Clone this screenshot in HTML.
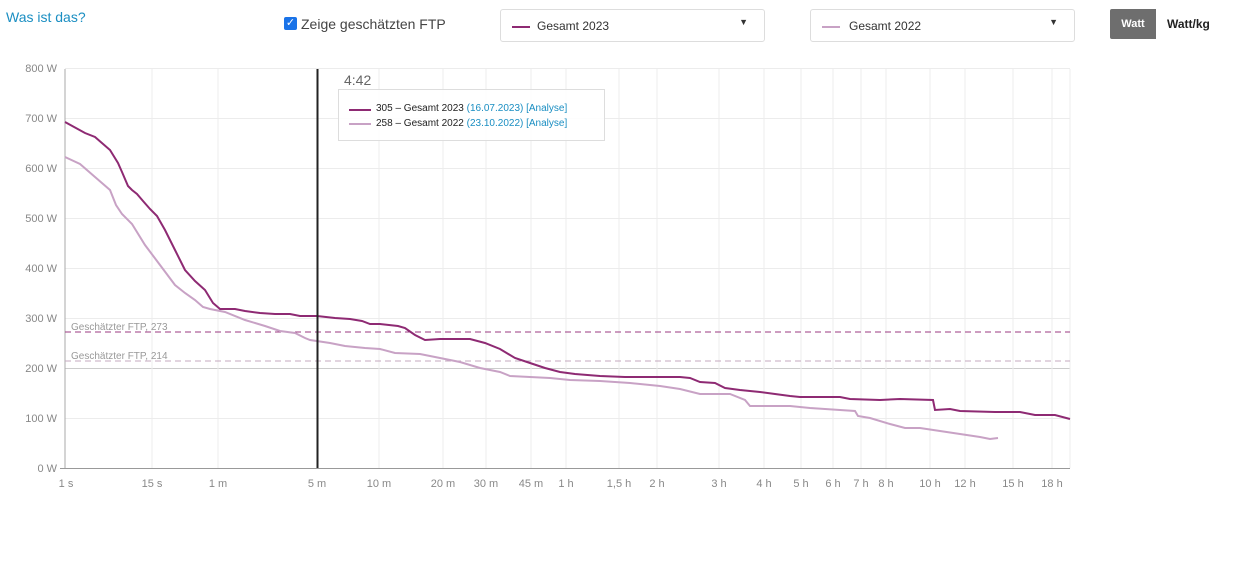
<!DOCTYPE html>
<html><head><meta charset="utf-8"><style>
body{margin:0;width:1257px;height:578px;background:#fff;font-family:"Liberation Sans",sans-serif;position:relative;overflow:hidden}
.a{position:absolute}
.sel{position:absolute;top:9px;height:33px;border:1px solid #ddd;border-radius:3px;font-size:12px;color:#333;box-sizing:border-box}
</style></head><body>
<div class="a" style="left:6px;top:9px;font-size:14px;color:#1a8ec2">Was ist das?</div>
<div class="a" style="left:284px;top:17px;width:13px;height:13px;background:#1a73e8;border-radius:2px;color:#fff;font-size:11px;line-height:13px;text-align:center">✓</div>
<div class="a" style="left:301px;top:16px;font-size:14px;color:#444">Zeige geschätzten FTP</div>
<div class="sel" style="left:500px;width:265px"><span class="a" style="left:11px;top:16px;width:18px;height:2px;background:#8e2a73"></span><span class="a" style="left:36px;top:9px">Gesamt 2023</span><span class="a" style="right:16px;top:7px;font-size:9px">▼</span></div>
<div class="sel" style="left:810px;width:265px"><span class="a" style="left:11px;top:16px;width:18px;height:2px;background:#c8a2c5"></span><span class="a" style="left:38px;top:9px">Gesamt 2022</span><span class="a" style="right:16px;top:7px;font-size:9px">▼</span></div>
<div class="a" style="left:1110px;top:9px;width:46px;height:30px;background:#6e6e6e;border-radius:2px 0 0 2px;color:#fff;font-size:11px;font-weight:bold;line-height:30px;text-align:center">Watt</div>
<div class="a" style="left:1167px;top:17px;font-size:12px;font-weight:bold;color:#222">Watt/kg</div>
<svg class="a" style="left:0;top:0" width="1257" height="578" font-family="Liberation Sans, sans-serif">
<g stroke="#ececec" stroke-width="1">
<line x1="65" y1="118.5" x2="1070" y2="118.5"/><line x1="65" y1="168.5" x2="1070" y2="168.5"/><line x1="65" y1="218.5" x2="1070" y2="218.5"/><line x1="65" y1="268.5" x2="1070" y2="268.5"/><line x1="65" y1="318.5" x2="1070" y2="318.5"/><line x1="65" y1="368.5" x2="1070" y2="368.5" stroke="#ccc"/><line x1="65" y1="418.5" x2="1070" y2="418.5"/><line x1="65" y1="68.5" x2="1070" y2="68.5"/>
<path d="M152 69V468M218 69V468M317 69V468M379 69V468M443 69V468M486 69V468M531 69V468M566 69V468M619 69V468M657 69V468M719 69V468M764 69V468M801 69V468M833 69V468M861 69V468M886 69V468M930 69V468M965 69V468M1013 69V468M1052 69V468M1070 69V468"/>
</g>
<line x1="65" y1="69" x2="65" y2="468" stroke="#aaa"/>
<line x1="60" y1="468.5" x2="1070" y2="468.5" stroke="#999"/>
<g font-size="11" fill="#888" text-anchor="end">
<text x="57" y="72">800 W</text><text x="57" y="122">700 W</text><text x="57" y="172">600 W</text><text x="57" y="222">500 W</text><text x="57" y="272">400 W</text><text x="57" y="322">300 W</text><text x="57" y="372">200 W</text><text x="57" y="422">100 W</text><text x="57" y="472">0 W</text>
</g>
<g font-size="11" fill="#888" text-anchor="middle">
<text x="66" y="487">1 s</text><text x="152" y="487">15 s</text><text x="218" y="487">1 m</text><text x="317" y="487">5 m</text><text x="379" y="487">10 m</text><text x="443" y="487">20 m</text><text x="486" y="487">30 m</text><text x="531" y="487">45 m</text><text x="566" y="487">1 h</text><text x="619" y="487">1,5 h</text><text x="657" y="487">2 h</text><text x="719" y="487">3 h</text><text x="764" y="487">4 h</text><text x="801" y="487">5 h</text><text x="833" y="487">6 h</text><text x="861" y="487">7 h</text><text x="886" y="487">8 h</text><text x="930" y="487">10 h</text><text x="965" y="487">12 h</text><text x="1013" y="487">15 h</text><text x="1052" y="487">18 h</text>
</g>
<line x1="65" y1="332" x2="1070" y2="332" stroke="#9b3a82" stroke-dasharray="6,4"/>
<line x1="65" y1="361" x2="1070" y2="361" stroke="#c4a8bf" stroke-dasharray="6,4"/>
<text x="71" y="330" font-size="10" fill="#999">Geschätzter FTP, 273</text>
<text x="71" y="359" font-size="10" fill="#999">Geschätzter FTP, 214</text>
<polyline fill="none" stroke="#c8a2c5" stroke-width="2" points="65,157 80,164 95,177 110,190 116,205 122,214 132,224 145,245 160,265 175,285 185,293 195,300 203,307 210,309 225,312 245,320 265,326 280,331 295,333 305,338 310,340 330,343 345,346 365,348 380,349 395,353 420,354 440,358 460,362 480,368 500,372 510,376 530,377 550,378 570,380 600,381 630,383 660,386 680,389 700,394 730,394 745,400 750,406 790,406 810,408 840,410 855,411 858,416 870,418 890,424 905,428 920,428 940,431 960,434 980,437 990,439 998,438"/>
<polyline fill="none" stroke="#8e2a73" stroke-width="2" points="65,122 85,133 95,137 110,150 118,163 122,172 128,186 132,190 137,194 143,201 150,209 157,216 165,230 175,250 185,270 195,281 205,290 213,303 220,309 235,309 245,311 260,313 275,314 290,314 300,316 317,316 335,318 350,319 362,321 370,324 380,324 398,326 405,328 415,335 425,340 440,339 470,339 485,343 500,349 515,358 530,363 545,368 560,372 575,374 600,376 625,377 680,377 690,378 700,382 715,383 725,388 740,390 760,392 775,394 790,396 800,397 840,397 850,399 880,400 900,399 933,400 935,410 950,409 960,411 995,412 1020,412 1035,415 1055,415 1070,419"/>
<line x1="317.5" y1="69" x2="317.5" y2="468" stroke="#222" stroke-width="2"/>
<text x="344" y="85" font-size="14" fill="#666">4:42</text>
<rect x="338.5" y="89.5" width="266" height="51" fill="#fff" fill-opacity="0.9" stroke="#ddd"/>
<line x1="349" y1="110" x2="371" y2="110" stroke="#8e2a73" stroke-width="2"/>
<line x1="349" y1="124" x2="371" y2="124" stroke="#c8a2c5" stroke-width="2"/>
<text x="376" y="111" font-size="10" fill="#222">305 – Gesamt 2023 <tspan fill="#1a8ec2">(16.07.2023) [Analyse]</tspan></text>
<text x="376" y="126" font-size="10" fill="#222">258 – Gesamt 2022 <tspan fill="#1a8ec2">(23.10.2022) [Analyse]</tspan></text>
</svg>
</body></html>
